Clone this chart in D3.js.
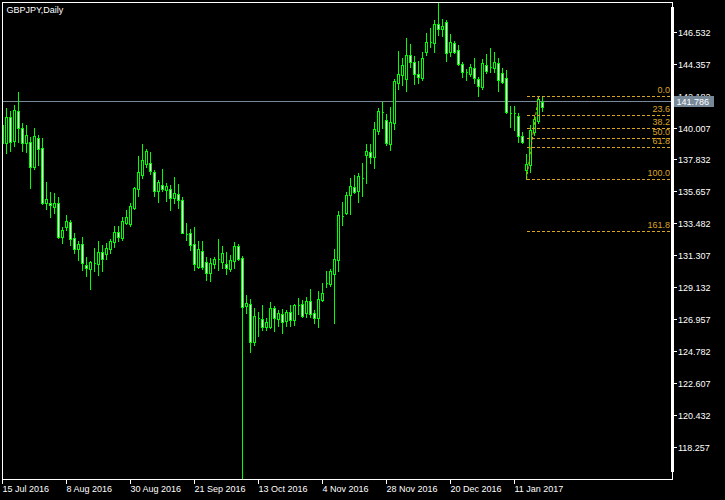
<!DOCTYPE html>
<html><head><meta charset="utf-8">
<script src="https://cdn.jsdelivr.net/npm/d3@7/dist/d3.min.js"></script>
<style>
html,body{margin:0;padding:0;background:#000;}
svg{display:block;}
text{font-family:"Liberation Sans",Arial,sans-serif;font-size:9px;}
</style></head>
<body>
<svg id="c" width="725" height="500"></svg>
<script>
const symbol = "GBPJPY,Daily";
const opens = [140.18,138.95,140.72,139.09,141.13,139.98,138.95,139.02,137.32,139.29,
138.61,134.87,134.87,134.60,134.87,132.55,133.24,133.57,132.49,131.74,
132.08,130.65,130.38,130.78,130.72,131.53,131.40,131.74,132.21,132.90,
132.49,133.51,133.44,134.53,135.82,136.77,137.52,137.59,136.98,135.69,
136.10,135.75,135.82,135.21,135.48,135.07,132.76,132.83,132.08,130.51,
131.60,130.85,130.10,130.72,131.06,130.85,130.72,130.38,130.92,131.94,
131.12,127.86,127.99,125.40,127.04,126.97,126.43,126.43,127.72,126.97,
127.31,126.83,127.45,126.90,127.92,127.99,127.38,128.20,127.38,127.04,
128.27,129.42,129.35,130.03,130.99,133.98,134.19,135.41,135.96,135.69,
136.57,138.14,138.34,138.00,139.77,141.07,140.52,138.89,140.32,143.04,
143.58,143.31,144.95,144.47,143.65,143.38,145.15,145.83,145.76,147.06,
146.72,147.19,145.15,145.76,145.29,144.33,143.79,143.65,144.06,143.31,
142.77,144.27,144.13,144.06,144.40,143.72,143.38,141.00,141.00,140.79,
139.43,137.12,137.46,139.70,140.45,141.75];
const highs = [140.59,141.34,141.13,141.54,142.43,140.32,140.18,139.36,139.98,139.50,
139.29,136.30,135.62,135.55,135.28,133.24,134.05,133.71,132.83,132.28,
132.55,131.19,130.92,131.81,132.28,132.01,132.15,132.42,133.30,133.30,
133.92,134.39,134.87,135.96,138.07,138.89,138.55,138.34,137.12,136.44,
137.18,136.23,136.10,136.64,136.16,135.28,133.51,133.10,133.24,132.28,
132.28,131.19,131.12,131.19,132.42,131.94,131.53,131.33,132.21,132.08,
131.26,128.61,128.33,127.72,127.45,127.92,127.04,128.13,127.86,127.58,
127.65,127.58,127.92,127.99,128.40,128.27,128.47,129.01,127.58,128.88,
129.42,130.24,130.38,131.74,134.32,134.94,135.62,136.57,136.77,136.91,
137.59,138.89,138.89,140.38,141.34,141.75,140.93,141.41,143.31,145.22,
144.74,146.10,145.69,144.88,144.54,145.15,146.44,146.78,147.33,148.49,
147.40,147.33,146.38,145.90,145.63,144.47,143.99,144.33,144.74,143.45,
144.67,145.01,145.42,145.15,144.74,144.06,143.92,141.47,141.47,141.00,
139.70,138.20,140.18,140.86,142.18,142.09];
const lows = [138.14,138.27,138.41,138.75,139.02,138.41,138.34,135.89,137.18,137.46,
134.80,134.46,133.92,134.19,132.49,132.15,133.03,132.01,131.47,130.99,
130.31,129.90,129.01,130.24,129.97,130.24,131.06,131.47,131.87,132.28,
132.35,133.44,133.30,134.46,135.35,136.57,137.32,136.84,135.35,134.94,
135.69,135.01,134.39,134.87,134.53,132.80,132.35,131.67,130.31,130.44,
130.38,129.63,129.56,130.44,130.31,130.44,130.03,130.24,130.44,130.99,
116.15,127.38,124.72,125.20,125.81,126.22,126.22,126.36,126.15,126.49,
126.02,126.49,126.49,126.56,127.31,127.11,127.11,127.11,126.70,126.43,
128.20,129.15,129.22,126.70,130.24,133.37,134.12,134.12,135.55,134.94,
135.35,136.23,137.59,137.25,139.57,139.98,138.82,138.48,139.91,142.63,
142.90,142.49,144.13,142.97,143.04,143.24,144.95,145.49,145.15,146.31,
146.24,144.54,144.88,145.08,144.27,143.45,143.24,143.52,143.04,142.15,
142.63,143.72,143.79,143.79,142.49,143.04,141.00,140.04,139.84,139.02,
138.95,136.48,136.98,139.50,140.32,141.13];
const closes = [138.95,140.72,139.02,141.20,139.98,138.95,139.50,137.32,139.43,138.55,
134.87,135.14,134.73,134.87,132.55,133.03,133.64,132.42,131.74,132.08,
130.78,130.44,130.85,130.80,131.53,131.06,131.81,132.28,132.90,132.55,
133.64,133.92,134.66,135.89,136.98,137.80,138.41,137.05,135.69,136.30,
135.82,136.03,135.21,135.55,135.07,132.83,132.78,132.01,130.72,131.74,
130.51,130.10,130.78,131.06,131.04,131.47,130.44,130.99,131.94,131.06,
127.79,128.06,125.40,127.18,127.06,126.43,126.77,127.72,127.04,127.38,
126.77,127.45,126.90,127.92,127.94,127.18,128.20,127.31,127.04,128.33,
128.74,129.44,130.24,131.06,134.05,134.00,135.41,136.03,135.62,136.71,
136.59,138.41,138.00,139.91,141.13,141.09,138.95,140.38,143.18,143.65,
144.27,144.95,144.47,143.65,143.45,144.74,145.83,145.85,147.06,146.72,
146.92,145.08,145.83,145.15,144.33,143.79,143.81,144.13,143.38,142.83,
144.40,143.86,144.15,144.47,143.24,143.11,141.07,141.02,140.98,139.43,
139.02,137.52,139.84,140.59,141.95,141.41];
const dateTicks = [0,16,32,48,64,80,96,112,128];
const dateLabels = ["15 Jul 2016","8 Aug 2016","30 Aug 2016","21 Sep 2016","13 Oct 2016","4 Nov 2016","28 Nov 2016","20 Dec 2016","11 Jan 2017"];
const priceTicks = [146.532,144.357,142.182,140.007,137.832,135.657,133.482,131.307,129.132,126.957,124.782,122.607,120.432,118.257];
const currentPrice = 141.786;
const fibLevels = [0,23.6,38.2,50.0,61.8,100.0,161.8];
const fibLabels = ["0.0","23.6","38.2","50.0","61.8","100.0","161.8"];
const fibHigh = 142.175, fibLow = 136.48;
const fibLowBar = 131, fibHighBar = 134;

const svg = d3.select("#c");
const L = 2, T = 2, R = 672, B = 479;
const x = d3.scaleLinear().domain([0, 1]).range([2.5, 6.5]);
const y = d3.scaleLinear().domain([116.079, 148.554]).range([B, T]);
const px = v => Math.round(v) + 0.5;
const green = "#00ff00", fibC = "#daa520", grey = "#778899";

svg.append("rect").attr("width",725).attr("height",500).attr("fill","#000");

const plot = svg.append("g");
plot.append("clipPath").attr("id","clip").append("rect")
  .attr("x",L+0.5).attr("y",T+0.5).attr("width",R-L-0.5).attr("height",B-T-0.5);
const g = plot.append("g").attr("clip-path","url(#clip)");

// current price line
g.append("line").attr("x1",L).attr("x2",R).attr("y1",px(y(currentPrice))).attr("y2",px(y(currentPrice)))
  .attr("stroke",grey).attr("stroke-width",1).attr("shape-rendering","crispEdges");

// candles
const idx = d3.range(opens.length);
g.selectAll(".wick").data(idx).join("line")
  .attr("x1",i=>x(i)).attr("x2",i=>x(i))
  .attr("y1",i=>Math.round(y(highs[i]))).attr("y2",i=>Math.round(y(lows[i]))+1)
  .attr("stroke",green).attr("stroke-width",1).attr("shape-rendering","crispEdges");
g.selectAll(".body").data(idx).join("path")
  .attr("d",i=>{
    const t = px(y(Math.max(opens[i],closes[i])));
    const b = px(y(Math.min(opens[i],closes[i])));
    const x0 = x(i)-1, x1 = x(i)+1;
    return `M${x0},${t}H${x1}V${b}H${x0}Z`;
  })
  .attr("fill",i=>closes[i]>=opens[i]?"#000":"#fff")
  .attr("stroke",green).attr("stroke-width",1).attr("shape-rendering","crispEdges");

// fibonacci
const fx0 = x(fibLowBar);
g.append("line").attr("x1",x(fibLowBar)).attr("y1",y(fibLow)).attr("x2",x(fibHighBar)).attr("y2",y(fibHigh))
  .attr("stroke",fibC).attr("stroke-width",1).attr("stroke-dasharray","3,2");
fibLevels.forEach((lv,k)=>{
  const p = fibHigh - lv/100*(fibHigh-fibLow);
  const yy = px(y(p));
  g.append("line").attr("x1",fx0).attr("x2",R-0.5).attr("y1",yy).attr("y2",yy)
    .attr("stroke",fibC).attr("stroke-width",1).attr("stroke-dasharray","3,2").attr("shape-rendering","crispEdges");
  g.append("text").attr("x",670).attr("y",yy-3.5).attr("text-anchor","end")
    .attr("fill",fibC).text(fibLabels[k]);
});

// title
svg.append("text").attr("x",6.5).attr("y",13).attr("fill","#fff").text(symbol);

// frame
svg.append("path").attr("d",`M${L+0.5},${B+0.5}V${T+0.5}H${R+0.5}V${B+0.5}H${L+0.5}`)
  .attr("fill","none").attr("stroke","#fff").attr("stroke-width",1).attr("shape-rendering","crispEdges");
svg.append("rect").attr("x",671).attr("y",7).attr("width",3).attr("height",465).attr("fill","#fff");

// y axis
const ya = svg.append("g");
priceTicks.forEach(v=>{
  const yy = px(y(v));
  ya.append("line").attr("x1",674).attr("x2",677).attr("y1",yy).attr("y2",yy)
    .attr("stroke","#fff").attr("shape-rendering","crispEdges");
  ya.append("text").attr("x",678).attr("y",yy).attr("dy","0.35em").attr("fill","#fff")
    .text(d3.format(".3f")(v));
});
// current price box
const cy = px(y(currentPrice));
svg.append("rect").attr("x",674).attr("y",cy-5.5).attr("width",40).attr("height",11).attr("fill",grey);
svg.append("text").attr("x",676.5).attr("y",cy).attr("dy","0.35em").attr("fill","#fff")
  .text(d3.format(".3f")(currentPrice));

// x axis
const xa = svg.append("g");
dateTicks.forEach((i,k)=>{
  xa.append("line").attr("x1",x(i)).attr("x2",x(i)).attr("y1",B).attr("y2",B+5)
    .attr("stroke","#fff").attr("shape-rendering","crispEdges");
  xa.append("text").attr("x",x(i)).attr("y",492).attr("fill","#fff").text(dateLabels[k]);
});
</script>
</body></html>
